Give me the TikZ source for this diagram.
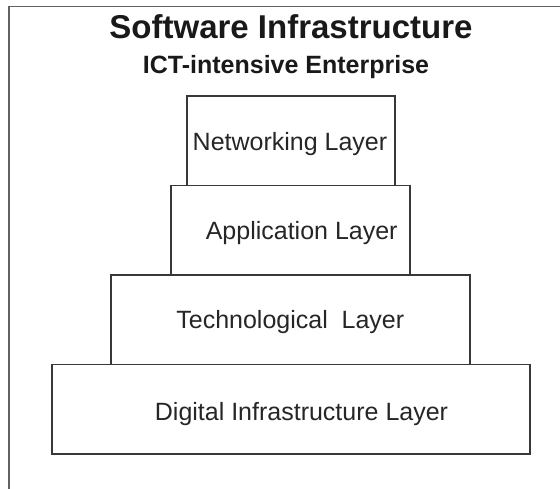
\documentclass[tikz,border=0pt]{standalone}
\usepackage{fontspec}
\setmainfont{Liberation Sans}
\begin{document}
\begin{tikzpicture}[x=1pt,y=-1pt,
  frameline/.style={draw=black!62,line width=1.9pt},
  layerbox/.style={draw=black!78,line width=1.8pt,fill=white,inner sep=0pt,
    minimum height=89.5pt},
  layertext/.style={anchor=base,inner sep=0pt,text=black!85,
    font=\fontsize{25}{30}\selectfont},
  titletext/.style={anchor=base,inner sep=0pt,text=black!90,
    font=\bfseries\fontsize{33}{40}\selectfont},
  subtitletext/.style={anchor=base,inner sep=0pt,text=black!90,
    font=\bfseries\fontsize{25}{30}\selectfont}]
  \useasboundingbox[fill=white] (0,0) rectangle (560,489);

  % open frame: top and left edges only
  \coordinate (ftr) at (560,6.5);
  \coordinate (ftl) at (9,6.5);
  \coordinate (fbl) at (9,489);
  \draw[frameline] (ftr) -- (ftl) -- (fbl);

  % headings
  \node[titletext] (title) at (291,38.3) {Software Infrastructure};
  \node[subtitletext] (subtitle) at (286,73.3) {ICT-intensive Enterprise};

  % stacked layers, widest at the bottom
  \node[layerbox,minimum width=478pt] (dig) at (291,409.25) {};
  \node[layerbox,minimum width=359pt] (tech) at (290.5,319.75) {};
  \node[layerbox,minimum width=239pt] (app) at (290.5,230.25) {};
  \node[layerbox,minimum width=208pt] (net) at (291,140.75) {};

  % layer labels
  \node[layertext] (netlabel) at (290,150.5) {Networking Layer};
  \node[layertext] (applabel) at (301.7,240) {Application Layer};
  \node[layertext] (techlabel) at (290.3,328.3) {Technological\ \ Layer};
  \node[layertext] (diglabel) at (301.5,420) {Digital Infrastructure Layer};
\end{tikzpicture}
\end{document}
